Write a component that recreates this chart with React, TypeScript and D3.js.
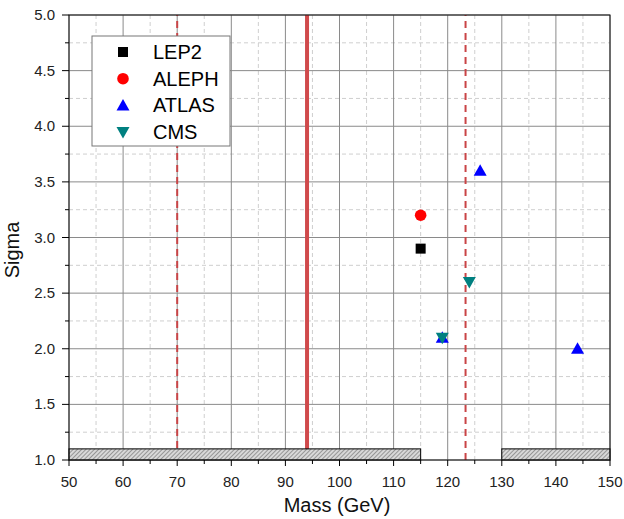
import React from 'react';
import * as d3 from 'd3';

// values
const lep2 = [{ mass: 115, sigma: 2.9 }];
const aleph = [{ mass: 115, sigma: 3.2 }];
const atlas = [
    { mass: 126, sigma: 3.6 },
    { mass: 119, sigma: 2.1 },
    { mass: 144, sigma: 2.0 },
];
const cms = [
    { mass: 119, sigma: 2.1 },
    { mass: 124, sigma: 2.6 },
];
const excluded = [
    [50, 115],
    [130, 150],
];
const dashedMarks = [70, 123.3];
const solidMark = 94;
const legendItems = ['LEP2', 'ALEPH', 'ATLAS', 'CMS'];

const W = 624;
const H = 519;
const FONT = 'Arial, "Liberation Sans", sans-serif';

const Marker = ({ kind, x, y }) => {
    if (kind === 'LEP2') return <rect x={x - 5} y={y - 5} width={10} height={10} fill="#000" />;
    if (kind === 'ALEPH') return <circle cx={x} cy={y} r={5.8} fill="#ff0000" />;
    if (kind === 'ATLAS')
        return <path d={`M${x},${y - 6.5}L${x + 6.5},${y + 5}L${x - 6.5},${y + 5}Z`} fill="#0000ff" />;
    return <path d={`M${x},${y + 6.5}L${x + 6.5},${y - 5}L${x - 6.5},${y - 5}Z`} fill="#008080" />;
};

const App = () => {
    const x = d3.scaleLinear().domain([50, 150]).range([69, 610]);
    const y = d3.scaleLinear().domain([1, 5]).range([460, 15]);

    const xMajor = d3.range(50, 151, 10);
    const xMinor = d3.range(55, 150, 10);
    const yMajor = d3.range(0, 9).map(i => 1 + i * 0.5);
    const yMinor = d3.range(0, 8).map(i => 1.25 + i * 0.5);

    const [x0, x1] = x.range();
    const [y0, y1] = y.range();

    return (
        <svg width={W} height={H} style={{ position: 'absolute', left: 0, top: 0, background: '#fff' }}>
            <defs>
                <pattern id="hatch" patternUnits="userSpaceOnUse" width={3} height={3} patternTransform="rotate(45)">
                    <rect width={3} height={3} fill="#d8d8d8" />
                    <line x1={0} y1={0} x2={0} y2={3} stroke="#555" strokeWidth={1} />
                </pattern>
            </defs>

            {/* minor grid */}
            {xMinor.map(v => (
                <line key={'xm' + v} x1={x(v)} x2={x(v)} y1={y0} y2={y1} stroke="#cfcfcf" strokeDasharray="4,3" />
            ))}
            {yMinor.map(v => (
                <line key={'ym' + v} x1={x0} x2={x1} y1={y(v)} y2={y(v)} stroke="#cfcfcf" strokeDasharray="4,3" />
            ))}
            {/* major grid */}
            {xMajor.map(v => (
                <line key={'xg' + v} x1={x(v)} x2={x(v)} y1={y0} y2={y1} stroke="#8a8a8a" />
            ))}
            {yMajor.map(v => (
                <line key={'yg' + v} x1={x0} x2={x1} y1={y(v)} y2={y(v)} stroke="#8a8a8a" />
            ))}

            {/* reference masses */}
            {dashedMarks.map(v => (
                <line key={'d' + v} x1={x(v)} x2={x(v)} y1={y0} y2={y1} stroke="#c94446" strokeWidth={2} strokeDasharray="7,5" />
            ))}
            <line x1={x(solidMark)} x2={x(solidMark)} y1={y0} y2={y1} stroke="#d04a4c" strokeWidth={4} />

            {/* excluded ranges */}
            {excluded.map(([a, b]) => (
                <rect key={'e' + a} x={x(a)} y={y(1.1)} width={x(b) - x(a)} height={y(1) - y(1.1)}
                    fill="url(#hatch)" stroke="#000" strokeWidth={1} />
            ))}

            {/* frame */}
            <rect x={x0} y={y1} width={x1 - x0} height={y0 - y1} fill="none" stroke="#111" strokeWidth={1} />

            {/* ticks */}
            {xMajor.map(v => (
                <g key={'xt' + v}>
                    <line x1={x(v)} x2={x(v)} y1={y0} y2={y0 + 6} stroke="#000" />
                    <text x={x(v)} y={y0 + 27} textAnchor="middle" fontSize={15} fontFamily={FONT} fill="#222">{v}</text>
                </g>
            ))}
            {xMinor.map(v => (
                <line key={'xmt' + v} x1={x(v)} x2={x(v)} y1={y0} y2={y0 + 4} stroke="#000" />
            ))}
            {yMajor.map(v => (
                <g key={'yt' + v}>
                    <line x1={x0 - 7} x2={x0} y1={y(v)} y2={y(v)} stroke="#000" />
                    <text x={x0 - 14} y={y(v) + 5} textAnchor="end" fontSize={15} fontFamily={FONT} fill="#222">{v.toFixed(1)}</text>
                </g>
            ))}
            {yMinor.map(v => (
                <line key={'ymt' + v} x1={x0 - 4} x2={x0} y1={y(v)} y2={y(v)} stroke="#000" />
            ))}

            {/* axis titles */}
            <text x={337} y={512} textAnchor="middle" fontSize={20} fontFamily={FONT} fill="#111">Mass (GeV)</text>
            <text transform="translate(19,250) rotate(-90)" textAnchor="middle" fontSize={20} fontFamily={FONT} fill="#111">Sigma</text>

            {/* data */}
            {lep2.map((d, i) => <Marker key={'l' + i} kind="LEP2" x={x(d.mass)} y={y(d.sigma)} />)}
            {aleph.map((d, i) => <Marker key={'a' + i} kind="ALEPH" x={x(d.mass)} y={y(d.sigma)} />)}
            {atlas.map((d, i) => <Marker key={'t' + i} kind="ATLAS" x={x(d.mass)} y={y(d.sigma)} />)}
            {cms.map((d, i) => <Marker key={'c' + i} kind="CMS" x={x(d.mass)} y={y(d.sigma)} />)}

            {/* legend */}
            <g>
                <rect x={92} y={36} width={138} height={110} fill="#fff" stroke="#777" strokeWidth={1} />
                {legendItems.map((name, i) => {
                    const cy = 52 + i * 26.7;
                    return (
                        <g key={name}>
                            <Marker kind={name} x={123} y={cy} />
                            <text x={153} y={cy + 7} fontSize={20} fontFamily={FONT} fill="#000">{name}</text>
                        </g>
                    );
                })}
            </g>
        </svg>
    );
};

export default App;
